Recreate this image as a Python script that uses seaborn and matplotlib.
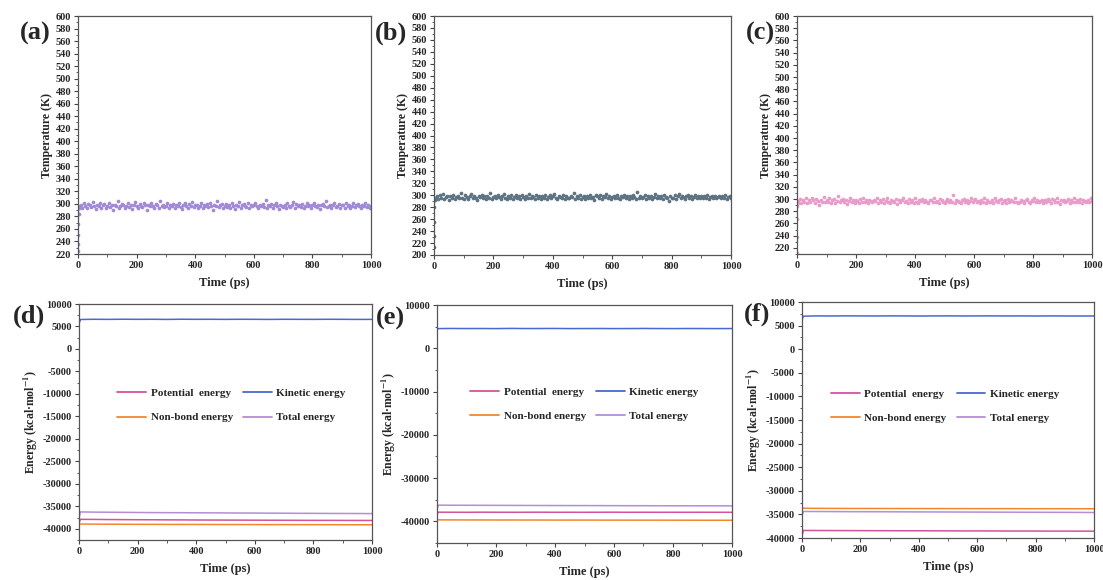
import numpy as np
import pandas as pd
import matplotlib
matplotlib.use("Agg")
import matplotlib.pyplot as plt
from matplotlib.ticker import MultipleLocator
import seaborn as sns

# ---------------- data ----------------
temp_time = np.arange(5, 1001, 5)
start_time_a = [0, 0.5, 1, 1.5, 2, 3]
start_temp_a = [224, 236, 250, 268, 284, 293]
start_time_b = [0, 0.5, 1, 1.5, 2]
start_temp_b = [214, 232, 256, 280, 292]
start_time_c = [0, 0.5, 1, 1.5, 2]
start_temp_c = [212, 238, 268, 288, 294]

temp_a = [
    296,299,294,301,297,293,300,298,295,303, 297,292,299,296,301,294,298,300,293,297,
    302,295,298,291,299,297,304,294,296,300, 298,293,297,301,295,299,292,298,303,296,
    294,300,297,295,302,298,291,299,296,301, 297,294,300,298,293,305,296,299,295,297,
    301,293,298,296,300,294,299,297,302,295, 292,298,301,296,294,300,297,303,295,298,
    299,294,297,301,293,298,296,300,295,302, 297,291,299,296,304,295,298,300,293,297,
    300,295,298,294,301,297,292,299,296,303, 294,298,300,297,295,301,293,298,296,299,
    302,296,294,299,297,300,295,306,293,298, 297,300,294,298,301,296,292,299,297,295,
    299,293,301,297,295,298,303,294,300,296, 298,295,300,293,297,302,296,299,294,298,
    301,297,295,299,292,298,300,296,304,295, 296,299,293,298,301,295,297,300,294,299,
    298,294,302,296,299,293,297,301,295,298, 300,296,293,299,297,302,295,298,294,297]
temp_b = [
    295,298,293,300,296,302,294,297,299,292, 298,296,301,294,297,299,295,303,296,293,
    300,297,294,298,302,295,299,296,292,298, 297,301,295,299,293,298,296,304,294,297,
    299,295,300,297,293,298,302,296,294,299, 296,300,293,297,301,295,298,294,300,297,
    293,299,296,302,295,298,297,294,301,296, 298,294,299,296,300,293,297,301,295,298,
    302,296,293,299,297,295,300,294,298,296, 295,299,297,303,294,298,296,300,293,297,
    299,294,298,296,301,295,297,292,300,298, 296,300,294,298,297,302,295,299,293,297,
    298,295,301,296,294,299,297,300,295,298, 294,298,296,300,297,293,305,296,299,295,
    297,301,294,298,296,299,293,297,302,296, 299,295,298,294,300,297,296,290,298,295,
    296,300,293,298,302,295,299,297,294,298, 301,296,299,293,297,300,295,298,296,299,
    295,298,296,300,294,297,299,295,298,296, 297,299,295,298,296,300,294,297,299,296]
temp_c = [
    297,300,293,298,296,301,294,299,295,302, 298,294,300,297,291,299,296,303,295,298,
    296,301,294,298,300,293,297,305,295,299, 300,295,298,292,297,301,296,299,294,298,
    297,293,300,296,302,295,298,294,299,297, 295,299,297,301,294,298,296,300,293,297,
    302,296,294,299,297,295,300,292,298,296, 298,301,295,297,293,300,296,299,294,302,
    296,294,299,297,300,295,298,296,293,299, 299,296,302,295,297,294,300,298,296,293,
    297,300,295,299,296,306,294,298,297,295, 294,298,300,296,299,293,297,301,295,298,
    300,295,297,294,299,296,302,293,298,296, 296,299,294,301,297,295,298,300,294,297,
    298,293,300,296,299,297,295,301,296,294, 295,299,297,293,298,300,296,294,299,297,
    301,296,298,295,297,299,293,298,296,300, 297,294,300,298,295,301,296,292,299,297,
    299,295,297,300,294,298,296,302,295,298, 296,300,294,298,297,295,299,296,301,297]

energy_time = [0, 5] + list(range(50, 1001, 50))
series_names = ["Potential  energy", "Kinetic energy", "Non-bond energy", "Total energy"]

d_pot = [-38600, -37900, -37920, -37950, -37970, -37990, -38000, -38020, -38030, -38050, -38060,
         -38070, -38080, -38090, -38100, -38110, -38120, -38130, -38130, -38140, -38150, -38150]
d_kin = [5600, 6550, 6600, 6580, 6610, 6590, 6600, 6570, 6610, 6590, 6600,
         6580, 6600, 6590, 6570, 6600, 6590, 6580, 6600, 6590, 6570, 6580]
d_nb = [-38900, -38950, -38970, -38990, -39000, -39010, -39020, -39030, -39040, -39040, -39050,
        -39060, -39060, -39070, -39080, -39080, -39090, -39090, -39100, -39100, -39110, -39110]
d_tot = [-37600, -36250, -36300, -36320, -36350, -36380, -36400, -36420, -36430, -36450, -36460,
         -36480, -36500, -36510, -36530, -36540, -36560, -36570, -36590, -36600, -36610, -36630]

e_pot = [-38300, -37880, -37890, -37900, -37880, -37890, -37900, -37890, -37880, -37900, -37890,
         -37900, -37890, -37880, -37900, -37890, -37900, -37890, -37900, -37890, -37900, -37900]
e_kin = [4300, 4550, 4580, 4560, 4570, 4550, 4590, 4560, 4570, 4580, 4550,
         4560, 4570, 4550, 4560, 4580, 4560, 4550, 4570, 4560, 4550, 4560]
e_nb = [-39600, -39650, -39660, -39670, -39670, -39680, -39680, -39690, -39690, -39700, -39700,
        -39700, -39710, -39710, -39720, -39720, -39720, -39730, -39730, -39740, -39740, -39740]
e_tot = [-37000, -36260, -36270, -36280, -36290, -36300, -36310, -36320, -36330, -36340, -36350,
         -36350, -36360, -36370, -36380, -36380, -36390, -36400, -36400, -36410, -36410, -36420]

f_pot = [-39500, -38400, -38410, -38420, -38430, -38440, -38450, -38460, -38470, -38470, -38480,
         -38490, -38500, -38500, -38510, -38520, -38520, -38530, -38540, -38540, -38550, -38550]
f_kin = [6300, 7000, 7050, 7040, 7060, 7050, 7040, 7060, 7050, 7030, 7050,
         7060, 7040, 7050, 7060, 7040, 7050, 7030, 7050, 7040, 7030, 7040]
f_nb = [-33500, -33700, -33720, -33730, -33740, -33740, -33750, -33750, -33760, -33760, -33770,
        -33770, -33770, -33780, -33780, -33780, -33790, -33790, -33790, -33800, -33800, -33800]
f_tot = [-35200, -34380, -34390, -34400, -34420, -34430, -34440, -34450, -34460, -34470, -34480,
         -34490, -34500, -34510, -34520, -34530, -34540, -34550, -34560, -34570, -34580, -34600]

# ---------------- style ----------------
sns.set_theme(style="ticks")
plt.rcParams["font.family"] = ["Liberation Serif", "DejaVu Serif"]
plt.rcParams["font.weight"] = "bold"
plt.rcParams["axes.labelweight"] = "bold"
plt.rcParams["mathtext.fontset"] = "stix"
plt.rcParams["axes.unicode_minus"] = False

W, H = 1103, 580
fig = plt.figure(figsize=(W / 100, H / 100), dpi=100)

def add_ax(l, r, t, b):
    return fig.add_axes([l / W, 1 - b / H, (r - l) / W, (b - t) / H])

energy_colors = {"Potential  energy": "#d4519f", "Kinetic energy": "#4a68d2",
                 "Non-bond energy": "#f2872e", "Total energy": "#b58cd8"}

def style_axes(ax):
    for s in ax.spines.values():
        s.set_color("#555555")
        s.set_linewidth(0.9)
    ax.tick_params(axis="both", which="major", direction="out", length=3, width=0.8,
                   labelsize=7.5, pad=2, color="#444444", top=False, right=False)
    ax.tick_params(axis="both", which="minor", direction="out", length=1.8, width=0.6,
                   color="#444444", top=False, right=False)
    for lab in ax.get_xticklabels() + ax.get_yticklabels():
        lab.set_fontweight("bold")
    ax.set_xlabel("Time (ps)", fontsize=9, fontweight="bold", labelpad=5)

def temp_panel(box, st, sv, vals, color, ylo):
    ax = add_ax(*box)
    df = pd.DataFrame({"t": list(st) + list(temp_time), "T": list(sv) + list(vals)})
    sns.lineplot(data=df.iloc[:len(st) + 1], x="t", y="T", ax=ax, color=color,
                 linewidth=0.8, legend=False)
    sns.scatterplot(data=df, x="t", y="T", ax=ax, color=color, s=7, linewidth=0,
                    legend=False)
    ax.set_xlim(0, 1000)
    ax.set_ylim(ylo, 600)
    ax.xaxis.set_major_locator(MultipleLocator(200))
    ax.xaxis.set_minor_locator(MultipleLocator(100))
    ax.yaxis.set_major_locator(MultipleLocator(20))
    ax.yaxis.set_minor_locator(MultipleLocator(10))
    style_axes(ax)
    ax.set_ylabel("Temperature (K)", fontsize=8.5, fontweight="bold", labelpad=2)
    return ax

def energy_panel(box, vals, ylim, major, leg_center):
    ax = add_ax(*box)
    rows = []
    for name, v in zip(series_names, vals):
        for t, e in zip(energy_time, v):
            rows.append((name, t, e))
    df = pd.DataFrame(rows, columns=["series", "t", "E"])
    sns.lineplot(data=df, x="t", y="E", hue="series", hue_order=series_names,
                 palette=energy_colors, ax=ax, linewidth=1.1, legend=False)
    ax.set_xlim(0, 1000)
    ax.set_ylim(*ylim)
    ax.xaxis.set_major_locator(MultipleLocator(200))
    ax.xaxis.set_minor_locator(MultipleLocator(100))
    ax.yaxis.set_major_locator(MultipleLocator(major))
    ax.yaxis.set_minor_locator(MultipleLocator(major / 2))
    style_axes(ax)
    ax.set_ylabel("Energy (kcal·mol$^{\\mathbf{-1}}$)", fontsize=8.5, fontweight="bold",
                  labelpad=2)
    handles = [plt.Line2D([], [], color=energy_colors[n], lw=1.3) for n in series_names]
    order = [0, 2, 1, 3]
    ax.legend([handles[i] for i in order], [series_names[i] for i in order], ncol=2,
              loc="center", bbox_to_anchor=leg_center, frameon=False,
              prop={"family": "Liberation Serif", "weight": "bold", "size": 8},
              handlelength=2.6, handletextpad=0.4, columnspacing=0.9, labelspacing=1.3)
    return ax

temp_panel((78, 371, 16, 254), start_time_a, start_temp_a, temp_a, "#a08ad8", 220)
temp_panel((434, 731, 16, 255), start_time_b, start_temp_b, temp_b, "#5b7383", 200)
temp_panel((797, 1092, 16, 254), start_time_c, start_temp_c, temp_c, "#e99bc9", 210)

energy_panel((79, 372, 304, 540), [d_pot, d_kin, d_nb, d_tot], (-42500, 10000), 5000,
             (0.52, 0.57))
energy_panel((437, 732, 305, 543), [e_pot, e_kin, e_nb, e_tot], (-45000, 10000), 10000,
             (0.50, 0.585))
energy_panel((802, 1094, 302, 538), [f_pot, f_kin, f_nb, f_tot], (-40000, 10000), 5000,
             (0.49, 0.56))

panel_labels = [("(a)", 35, 33), ("(b)", 391, 33), ("(c)", 760, 33),
                ("(d)", 29, 316), ("(e)", 390, 318), ("(f)", 757, 314)]
for txt, x, y in panel_labels:
    fig.text(x / W, 1 - y / H, txt, fontsize=19, fontweight="bold", ha="center",
             va="center", family="Liberation Serif")

fig.savefig("out.png", dpi=100, facecolor="white")
